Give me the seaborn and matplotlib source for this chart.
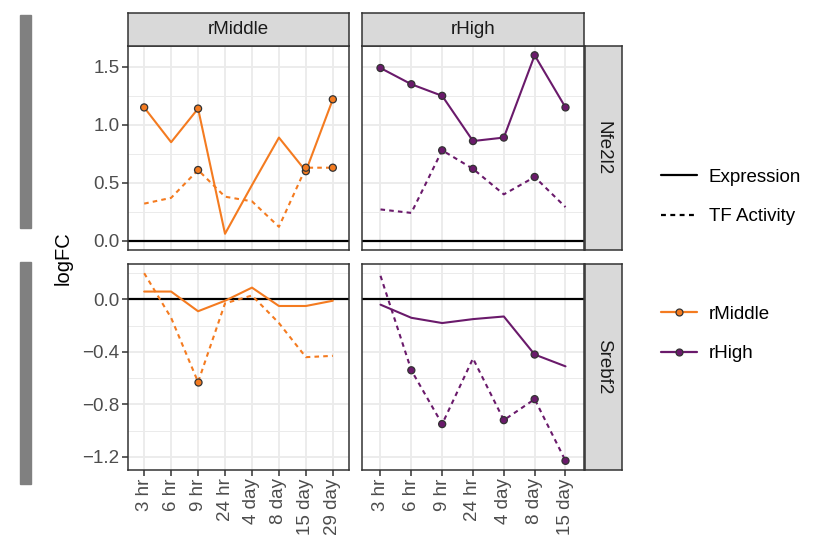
import numpy as np
import pandas as pd
import matplotlib
matplotlib.use("Agg")
import matplotlib.pyplot as plt
from matplotlib.lines import Line2D
from matplotlib.patches import Rectangle
import seaborn as sns

sns.set_theme(style="white")
plt.rcParams["font.family"] = ["Liberation Sans", "DejaVu Sans"]

# ---- data -------------------------------------------------------------
times_mid = ["3 hr", "6 hr", "9 hr", "24 hr", "4 day", "8 day", "15 day", "29 day"]
times_high = ["3 hr", "6 hr", "9 hr", "24 hr", "4 day", "8 day", "15 day"]
genes = ["Nfe2l2", "Srebf2"]
groups = ["rMiddle", "rHigh"]
measures = ["Expression", "TF Activity"]

nfe_mid_expr = [1.15, 0.85, 1.14, 0.06, 0.48, 0.89, 0.60, 1.22]
nfe_mid_tf = [0.32, 0.37, 0.61, 0.38, 0.34, 0.12, 0.63, 0.63]
nfe_high_expr = [1.49, 1.35, 1.25, 0.86, 0.89, 1.60, 1.15]
nfe_high_tf = [0.27, 0.24, 0.78, 0.62, 0.40, 0.55, 0.29]
sreb_mid_expr = [0.06, 0.06, -0.09, -0.01, 0.09, -0.05, -0.05, -0.01]
sreb_mid_tf = [0.20, -0.14, -0.63, -0.03, 0.03, -0.18, -0.44, -0.43]
sreb_high_expr = [-0.04, -0.14, -0.18, -0.15, -0.13, -0.42, -0.51]
sreb_high_tf = [0.18, -0.54, -0.95, -0.45, -0.92, -0.76, -1.23]

# significant time points (marked with a dot)
nfe_mid_expr_sig = [1, 0, 1, 0, 0, 0, 1, 1]
nfe_mid_tf_sig = [0, 0, 1, 0, 0, 0, 1, 1]
nfe_high_expr_sig = [1, 1, 1, 1, 1, 1, 1]
nfe_high_tf_sig = [0, 0, 1, 1, 0, 1, 0]
sreb_mid_expr_sig = [0, 0, 0, 0, 0, 0, 0, 0]
sreb_mid_tf_sig = [0, 0, 1, 0, 0, 0, 0, 0]
sreb_high_expr_sig = [0, 0, 0, 0, 0, 1, 0]
sreb_high_tf_sig = [0, 1, 1, 0, 1, 1, 1]

series = [
    ("Nfe2l2", "rMiddle", "Expression", times_mid, nfe_mid_expr, nfe_mid_expr_sig),
    ("Nfe2l2", "rMiddle", "TF Activity", times_mid, nfe_mid_tf, nfe_mid_tf_sig),
    ("Nfe2l2", "rHigh", "Expression", times_high, nfe_high_expr, nfe_high_expr_sig),
    ("Nfe2l2", "rHigh", "TF Activity", times_high, nfe_high_tf, nfe_high_tf_sig),
    ("Srebf2", "rMiddle", "Expression", times_mid, sreb_mid_expr, sreb_mid_expr_sig),
    ("Srebf2", "rMiddle", "TF Activity", times_mid, sreb_mid_tf, sreb_mid_tf_sig),
    ("Srebf2", "rHigh", "Expression", times_high, sreb_high_expr, sreb_high_expr_sig),
    ("Srebf2", "rHigh", "TF Activity", times_high, sreb_high_tf, sreb_high_tf_sig),
]
rows = []
for gene, grp, meas, times, vals, sig in series:
    for t, v, s in zip(times, vals, sig):
        rows.append(dict(gene=gene, group=grp, measure=meas, time=t, logFC=v, sig=bool(s)))
df = pd.DataFrame(rows)

# ---- style -----------------------------------------------------------
palette = {"rMiddle": "#F47B20", "rHigh": "#6A1A6B"}
dashes = {"Expression": "", "TF Activity": (2.2, 2.0)}
grid_col = "#EBEBEB"
border_col = "#333333"
text_col = "#4D4D4D"
strip_fill = "#D9D9D9"
FS = 13.5

row_ylim = {"Nfe2l2": (-0.08, 1.68), "Srebf2": (-1.30, 0.27)}
row_major = {"Nfe2l2": [0.0, 0.5, 1.0, 1.5], "Srebf2": [0.0, -0.4, -0.8, -1.2]}
row_minor = {"Nfe2l2": [0.25, 0.75, 1.25], "Srebf2": [0.2, -0.2, -0.6, -1.0]}
col_times = {"rMiddle": times_mid, "rHigh": times_high}

W, H = 828, 539
fig = plt.figure(figsize=(W / 100, H / 100), dpi=100)


def fbox(x0, y0, x1, y1):
    return [x0 / W, 1 - y1 / H, (x1 - x0) / W, (y1 - y0) / H]


col_x = {"rMiddle": (128, 349), "rHigh": (362, 584)}
row_y = {"Nfe2l2": (46, 250), "Srebf2": (264, 470)}

for gene in genes:
    for grp in groups:
        x0, x1 = col_x[grp]
        y0, y1 = row_y[gene]
        ax = fig.add_axes(fbox(x0, y0, x1, y1))
        times = col_times[grp]
        sub = df[(df.gene == gene) & (df.group == grp)].copy()
        sub["pos"] = sub["time"].map({t: i for i, t in enumerate(times)})

        ax.set_facecolor("white")
        for yv in row_minor[gene]:
            ax.axhline(yv, color=grid_col, lw=0.7, zorder=0)
        for yv in row_major[gene]:
            ax.axhline(yv, color=grid_col, lw=1.3, zorder=0)
        for i in range(len(times)):
            ax.axvline(i, color=grid_col, lw=1.3, zorder=0)
        ax.axhline(0, color="black", lw=1.6, zorder=1)

        sns.lineplot(data=sub, x="pos", y="logFC", hue="group", style="measure",
                     palette=palette, dashes=dashes, style_order=measures,
                     lw=1.5, legend=False, ax=ax, zorder=2)
        sns.scatterplot(data=sub[sub.sig], x="pos", y="logFC", hue="group",
                        palette=palette, s=26, edgecolor="#333333", linewidth=0.9,
                        legend=False, ax=ax, zorder=3)

        ax.set_xlim(-0.6, len(times) - 0.4)
        ax.set_ylim(*row_ylim[gene])
        ax.set_xlabel("")
        ax.set_ylabel("")
        ax.grid(False)
        for sp in ax.spines.values():
            sp.set_color(border_col)
            sp.set_linewidth(1.1)
        ax.tick_params(colors=border_col, length=4, width=1.1, labelcolor=text_col,
                       labelsize=FS, pad=2)

        if grp == "rMiddle":
            ax.set_yticks(row_major[gene])
            ax.set_yticklabels([f"{v:.1f}".replace("-", "\u2212") for v in row_major[gene]])
            ax.tick_params(axis="y", left=True)
        else:
            ax.set_yticks(row_major[gene])
            ax.tick_params(axis="y", left=False, labelleft=False)

        if gene == "Srebf2":
            ax.set_xticks(range(len(times)))
            ax.set_xticklabels(times, rotation=90, va="top", ha="center")
            ax.tick_params(axis="x", bottom=True)
        else:
            ax.set_xticks([])

# facet strips
for grp in groups:
    x0, x1 = col_x[grp]
    sax = fig.add_axes(fbox(x0, 13, x1, 46))
    sax.set_xticks([]); sax.set_yticks([])
    sax.set_facecolor(strip_fill)
    for sp in sax.spines.values():
        sp.set_color(border_col); sp.set_linewidth(1.1)
    sax.text(0.5, 0.5, grp, ha="center", va="center", fontsize=FS, color="#1A1A1A",
             transform=sax.transAxes)

for gene in genes:
    y0, y1 = row_y[gene]
    sax = fig.add_axes(fbox(585, y0, 622, y1))
    sax.set_xticks([]); sax.set_yticks([])
    sax.set_facecolor(strip_fill)
    for sp in sax.spines.values():
        sp.set_color(border_col); sp.set_linewidth(1.1)
    sax.text(0.5, 0.5, gene, ha="center", va="center", rotation=-90, fontsize=FS,
             color="#1A1A1A", transform=sax.transAxes)

# grouping bars on the left edge
for (yt, yb) in [(15, 228), (262, 484)]:
    fig.patches.append(Rectangle((20 / W, 1 - yb / H), 11 / W, (yb - yt) / H,
                                 transform=fig.transFigure, color="#808080", zorder=0))

fig.text(63 / W, 1 - 258 / H, "logFC", rotation=90, ha="center", va="center",
         fontsize=14.5, color="black")

# legends
lt_handles = [Line2D([], [], color="black", lw=1.6, linestyle="-"),
              Line2D([], [], color="black", lw=1.6, dashes=(2.2, 2.0))]
leg1 = fig.legend(lt_handles, measures, loc="center left",
                  bbox_to_anchor=(661 / W, 1 - 197 / H), frameon=False, fontsize=FS,
                  handlelength=1.9, handletextpad=0.65, labelspacing=1.2,
                  borderaxespad=0, borderpad=0)
col_handles = [Line2D([], [], color=palette[g], lw=1.6, marker="o", markersize=5,
                      markeredgecolor="#333333", markeredgewidth=0.9) for g in groups]
leg2 = fig.legend(col_handles, groups, loc="center left",
                  bbox_to_anchor=(661 / W, 1 - 334 / H), frameon=False, fontsize=FS,
                  handlelength=1.9, handletextpad=0.65, labelspacing=1.2,
                  borderaxespad=0, borderpad=0)
for leg in (leg1, leg2):
    for t in leg.get_texts():
        t.set_color("black")

fig.savefig("out.png", dpi=100, facecolor="white")
